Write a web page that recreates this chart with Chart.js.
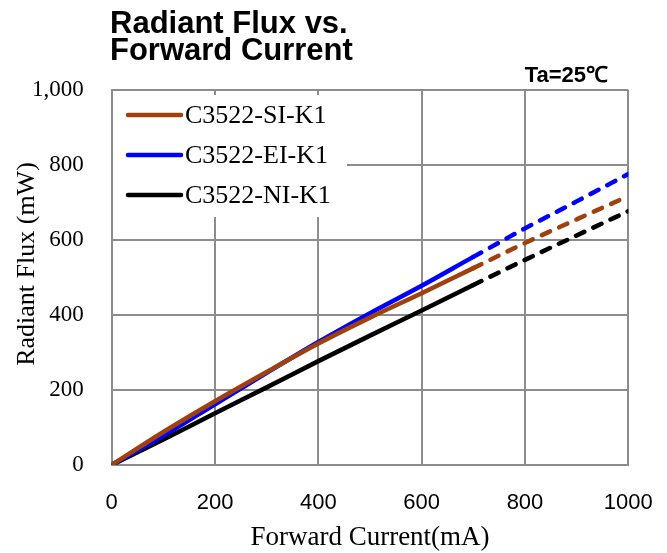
<!DOCTYPE html>
<html><head><meta charset="utf-8">
<script src="https://cdn.jsdelivr.net/npm/chart.js@4/dist/chart.umd.min.js"></script>
<style>html,body{margin:0;padding:0;background:#fff;}#wrap{width:667px;height:553px;position:relative;}</style>
</head><body><div id="wrap"><canvas id="c" width="667" height="553"></canvas></div>
<script>
const currents = [0, 100, 200, 300, 400, 500, 600, 700, 800, 900, 1000];
const fluxSI = [0, 88, 170, 248, 324, 393, 458, 525, 592, 655, 717];
const fluxEI = [0, 78, 162, 246, 328, 405, 478, 555, 631, 703, 776];
const fluxNI = [0, 68, 138, 207, 277, 345, 412, 480, 547, 612, 677];
const seriesNames = ['C3522-SI-K1', 'C3522-EI-K1', 'C3522-NI-K1'];
const seriesColors = ['#A0410D', '#0000FF', '#000000'];
const xTickValues = [0, 200, 400, 600, 800, 1000];
const yTickValues = [0, 200, 400, 600, 800, 1000];
const titleLines = ['Radiant Flux vs.', 'Forward Current'];
const conditionLabel = 'Ta=25\u2103';
const xAxisTitle = 'Forward Current(mA)';
const yAxisTitle = 'Radiant Flux (mW)';
const measuredLimit = 700;

const allSeries = [fluxSI, fluxEI, fluxNI];
const datasets = allSeries.map((vals, i) => ({
  label: seriesNames[i],
  data: currents.map((c, k) => ({x: c, y: vals[k]})),
  borderColor: seriesColors[i],
  backgroundColor: seriesColors[i],
  borderWidth: 4.5,
  borderCapStyle: 'round',
  borderJoinStyle: 'round',
  pointRadius: 0,
  cubicInterpolationMode: 'monotone',
  segment: {
    borderDash: ctx => ctx.p0.parsed.x >= measuredLimit ? [9, 10] : undefined
  }
}));

const gridColor = '#8c8c8c';

const decor = {
  id: 'decor',
  afterDatasetsDraw(chart) {
    const ctx = chart.ctx;
    ctx.save();
    // legend box
    ctx.fillStyle = '#fff';
    ctx.fillRect(113, 95, 234, 122);
    const rows = [115, 155, 195];
    seriesNames.forEach((n, i) => {
      ctx.strokeStyle = seriesColors[i];
      ctx.lineWidth = 4.5;
      ctx.lineCap = 'round';
      ctx.beginPath();
      ctx.moveTo(128, rows[i]);
      ctx.lineTo(181, rows[i]);
      ctx.stroke();
      ctx.fillStyle = '#000';
      ctx.font = '26px "Liberation Serif"';
      ctx.textBaseline = 'middle';
      ctx.textAlign = 'left';
      ctx.fillText(n, 185, rows[i] + 1);
    });
    // main title
    ctx.fillStyle = '#000';
    ctx.font = 'bold 31px "Liberation Sans"';
    ctx.textBaseline = 'alphabetic';
    ctx.textAlign = 'left';
    ctx.fillText(titleLines[0], 110, 33);
    ctx.fillText(titleLines[1], 110, 60);
    // condition
    ctx.font = 'bold 22px "Liberation Sans"';
    ctx.textAlign = 'right';
    ctx.fillText(conditionLabel, 608, 82);
    // y axis title
    ctx.translate(27, 264);
    ctx.rotate(-Math.PI / 2);
    ctx.font = '26px "Liberation Serif"';
    ctx.textAlign = 'center';
    ctx.textBaseline = 'middle';
    ctx.fillText(yAxisTitle, 0, 0);
    ctx.restore();
  }
};

new Chart(document.getElementById('c'), {
  type: 'line',
  data: {datasets},
  options: {
    responsive: false,
    animation: false,
    devicePixelRatio: 1,
    layout: {padding: {top: 90, right: 38.7, left: 0, bottom: 0}},
    plugins: {legend: {display: false}, tooltip: {enabled: false}, title: {display: false}},
    scales: {
      x: {
        type: 'linear', min: 0, max: 1000,
        afterBuildTicks: s => { s.ticks = xTickValues.map(v => ({value: v})); },
        afterFit: s => { s.height = 88; s.paddingLeft = 0; s.paddingRight = 0; },
        grid: {color: gridColor, lineWidth: 2, drawTicks: false},
        border: {color: gridColor, width: 2},
        ticks: {color: '#000', padding: 25, font: {family: '"Liberation Sans"', size: 22}, callback: v => String(v), maxRotation: 0},
        title: {display: true, text: xAxisTitle, color: '#000', font: {family: '"Liberation Serif"', size: 27, lineHeight: 1.1}, padding: {top: 0, bottom: 0}}
      },
      y: {
        type: 'linear', min: 0, max: 1000,
        afterBuildTicks: s => { s.ticks = yTickValues.map(v => ({value: v})); },
        afterFit: s => { s.width = 111.7; s.paddingTop = 0; s.paddingBottom = 0; },
        grid: {color: gridColor, lineWidth: 2, drawTicks: false},
        border: {color: gridColor, width: 2},
        ticks: {color: '#000', padding: 28, font: {family: '"Liberation Serif"', size: 23}, callback: v => v.toLocaleString('en-US')}
      }
    }
  },
  plugins: [decor]
});
</script>
</body></html>
